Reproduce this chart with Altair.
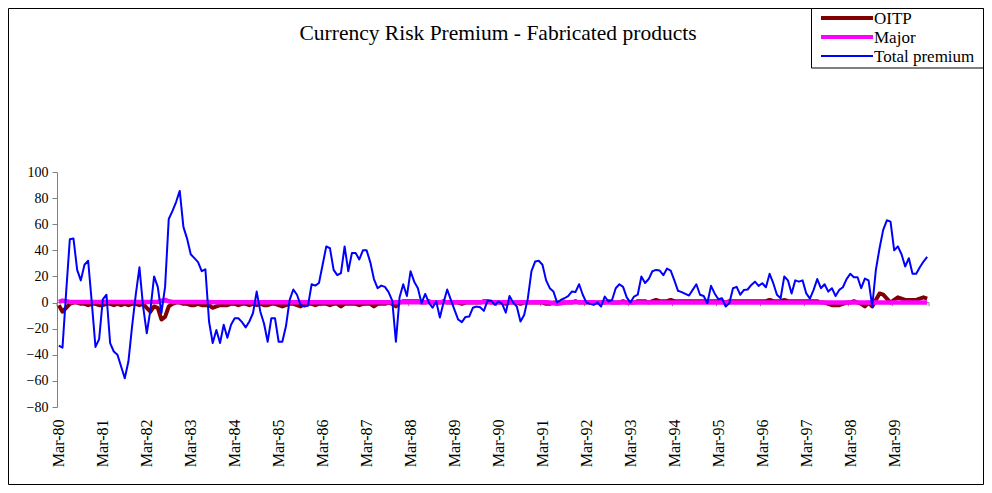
import altair as alt
import pandas as pd

# ---- data (monthly, Mar-80 .. Dec-99) ----
total_premium = [
    -33, -34.5, 8, 48.5, 49, 25, 17, 29, 32, 0, -34, -28,
    2.5, 6, -31, -37.5, -40, -49, -58, -45, -18, 6, 27, -3,
    -23.5, -5.6, 20, 12, -8, 12, 64, 70, 77, 85.5, 58, 49,
    37, 34, 31, 24, 25.5, -14.5, -31, -21, -31, -17, -27, -17,
    -12, -12, -15, -19, -14.5, -8, 8.4, -7, -16, -30, -12, -12,
    -30, -30, -18, 2, 10, 6, -2, -3, -2.5, 14, 13, 15,
    29, 43, 41.6, 25, 21, 22.5, 43, 24, 38, 38, 33, 40,
    40, 31, 18, 11, 13, 12, 8, 1.5, -30, 4, 14, 5,
    24, 16, 11, -0.5, 6.6, 0, -4, 1, -11.5, 0, 10, 2,
    -5.6, -13, -15, -11, -10.7, -4, -3, -3.6, -6.4, 1.3, 1.5, -1.8,
    0.8, -1, -7.7, 5, 0, -3, -14.5, -9.5, 3, 24, 31.4, 32,
    29, 17, 11, 8.4, 0, 2, 3.3, 5, 8.4, 8, 14, 6,
    0, -1, -1.8, 0, -3, 4.6, 0.8, 2, 11, 14, 12, 4,
    0, 4.6, 6, 20, 15, 18, 24, 25, 24.5, 21, 26, 24.5,
    17, 9, 8, 6.6, 5.4, 9.7, 14, 6, 5, -0.5, 12.8, 7,
    2.5, 3.3, -3, -0.5, 11, 12, 6, 9.7, 10, 13.5, 16, 12.8,
    14.8, 11.7, 22, 14.8, 6, 3.3, 20, 17, 7, 17, 16, 17,
    7, 3, 9.7, 18, 11, 14, 8.4, 11, 5, 9.7, 11.7, 18,
    22, 19.4, 19.4, 11, 18.4, 17, -3, 25, 41.6, 55.7, 63, 62,
    40, 43, 37, 27.6, 34, 22, 22, 27, 31.4, 35,
]

oitp = [
    -2, -7, -4, -1, 0, 0, -1, -1, -2, -1, -1, -2,
    -2, -1, -1, -2, -1, -2, -1, -2, -1, -1, -2, -1,
    -4, -7, -3, -4, -13, -11, -3, -1, 0, 0, -1, -1,
    -2, -2, -1, -2, -2, -2, -4, -3, -2, -2, -2, -1,
    -1, -2, -1, -1, -2, -1, -2, -1, -2, -2, -1, -1,
    -2, -3, -2, -1, -1, -2, -3, -1, -1, -1, -2, -1,
    -1, -1, -2, -1, -1, -3, -1, -1, -1, -1, -2, -1,
    -1, -1, -3, -1, -1, -1, 0, -1, -3, 0, 1, 1,
    1, 1, 1, 0, 0, 1, 0, 0, 0, 1, 0, 0,
    0, 0, -1, 0, 0, 0, 0, 0, 1, 1, 0, 0,
    0, 0, -1, 0, 0, 0, -1, 0, 0, 0, 0, 0,
    0, -1, -1, 0, 0, 0, 0, 0, 0, 1, 0, 0,
    0, 0, 0, 0, 0, 0, 1, 0, 0, 0, 1, 0,
    0, 0, 1, 1, 1, 0, 1, 2, 1, 1, 1, 2,
    1, 1, 1, 1, 1, 1, 1, 1, 1, 1, 1, 1,
    1, 1, 0, 1, 1, 1, 1, 1, 1, 1, 1, 1,
    1, 1, 2, 1, 1, 1, 2, 1, 1, 1, 1, 1,
    1, 1, 1, 1, 0, 0, -1, -2, -2, -2, -1, 0,
    0, 1, 0, -1, -3, 0, -3, 2, 7, 6, 3, 0,
    2, 4, 3, 2, 2, 2, 2, 3, 4, 3,
]

major = [
    0.5, 1.5, 1, 0.5, 0.5, 0.5, 0.5, 0.5, 0.5, 0.5, 0.5, 0.5,
    0.5, 0.5, 0.5, 0.5, 0.5, 0.5, 0.5, 0.5, 0.5, 0.5, 0.5, 0.5,
    0.5, 0.5, 0.5, 0.5, 1.5, 2, 1, 0.5, 0.5, 0.5, 0.5, 0.5,
    0.5, 0.5, 0.5, 0.5, 0.5, 0.5, 0.3, 0.3, 0.3, 0.3, 0.3, 0.3,
    0.3, 0.3, 0.3, 0.3, 0.3, 0.3, 0.3, 0.3, 0.3, 0.3, 0.3, 0.3,
    0.3, 0.3, 0.3, 0.3, 0.3, 0.3, 0.3, 0.3, 0.3, 0.3, 0.3, 0.3,
    0.3, 0.3, 0.3, 0.3, 0.3, 0.3, 0.3, 0.3, 0.3, 0.3, 0.3, 0.3,
    0.3, 0.3, 0.3, 0.3, 0.3, 0.3, 0.3, 0.3, 0.3, 0.3, 0.3, 0.3,
    0.3, 0.3, 0.3, 0.3, 0.3, 0.3, 0.3, 0.3, 0.3, 0.3, 0.3, 0.3,
    0.3, 0.3, 0.3, 0.3, 0.3, 0.3, 0.3, 0.3, 0.3, 0.3, 0.3, 0.3,
    0.3, 0.3, 0.3, 0.3, 0.3, 0.3, 0.3, 0.3, 0.3, 0.3, 0.3, 0.3,
    0.3, 0.3, 0, -0.5, -1, -0.5, 0, 0.3, 0.3, 0.3, 0.3, 0.3,
    0.3, 0.3, 0.3, 0, 0, 0, 0, 0, 0, 0, 0, 0,
    0, 0, 0, 0, 0, 0, 0, 0, 0, 0, 0, 0,
    0, 0, 0, 0, 0, 0, 0, 0, 0, 0, 0, 0,
    0, 0, 0, 0, 0, 0, 0, 0, 0, 0, 0, 0,
    0, 0, 0, 0, 0, 0, 0, 0, 0, 0, 0, 0,
    0, 0, 0, 0, 0, 0, 0, 0, 0, 0, 0, 0,
    0, 0, 0, 0, 0, 0, 0, 0, 0, 0, 0, 0,
    0, 0, 0, 0, 0, 0, 0, 0, 0, 0,
]

series_names = ["OITP", "Major", "Total premium"]
series_colors = ["#800000", "#FF00FF", "#0000FF"]
series_widths = [4, 4.5, 2]
y_ticks = [-80, -60, -40, -20, 0, 20, 40, 60, 80, 100]
title_text = "Currency Risk Premium - Fabricated products"

months = pd.date_range("1980-03-01", periods=len(total_premium), freq="MS")
month_labels = list(months.strftime("%b-%y"))
march_idx = [i for i, m in enumerate(months) if m.month == 3]
march_labels = [month_labels[i] for i in march_idx]

rows = []
for name, vals in zip(series_names, [oitp, major, total_premium]):
    for i, v in enumerate(vals):
        rows.append({"idx": i, "month": month_labels[i], "value": v, "series": name})
df = pd.DataFrame(rows)

ticks_df = pd.DataFrame({"pos": [i - 0.5 for i in march_idx] + [len(total_premium) - 0.5]})
one = pd.DataFrame({"k": [0]})

W, H = 872, 235
PL, PT = 49, 164
TOTW, TOTH = 976, 477
SERIF = "Liberation Serif"

label_expr = "[" + ",".join("'%s'" % s for s in march_labels) + "][round(datum.value/12)]"

xscale = alt.Scale(domain=[-0.5, len(total_premium) - 0.5], nice=False, zero=False)
yscale = alt.Scale(domain=[-80, 100], nice=False, zero=False)

x_axis = alt.Axis(values=march_idx, labelExpr=label_expr, labelAngle=270,
                  labelFont=SERIF, labelFontSize=16, labelColor="black",
                  labelPadding=12, domain=False, ticks=False, grid=False,
                  title=None, labelOverlap=False, labelFlush=False)
y_axis = alt.Axis(values=y_ticks, labelFont=SERIF, labelFontSize=14,
                  labelColor="black", domainColor="#808080", tickColor="#808080",
                  tickSize=5, labelPadding=4, grid=False, title=None,
                  labelOverlap=False, labelFlush=False)

x_enc = alt.X("idx:Q", scale=xscale, axis=x_axis)
y_enc = alt.Y("value:Q", scale=yscale, axis=y_axis)

color_enc = alt.Color("series:N", scale=alt.Scale(domain=series_names, range=series_colors), legend=None)

base = alt.Chart(df)
layers = []

for name, w in zip(series_names, series_widths):
    layers.append(base.transform_filter(alt.datum.series == name).mark_line(
        strokeJoin="round", strokeWidth=w).encode(x=x_enc, y=y_enc, color=color_enc))

# zero axis line and category ticks (Excel style)
zero_line = alt.Chart(one).mark_rule(color="#808080", strokeWidth=1).encode(
    y=alt.datum(0, scale=yscale, axis=y_axis))
tick_marks = alt.Chart(ticks_df).mark_rule(color="#808080", strokeWidth=1).encode(
    x=alt.X("pos:Q", scale=xscale, axis=x_axis),
    y=alt.datum(0, scale=yscale, axis=y_axis), y2=alt.datum(-2.8))

# title
title_layer = alt.Chart(one).mark_text(text=title_text, font=SERIF, fontSize=21.5,
                                       color="black", align="center", baseline="alphabetic").encode(
    x=alt.value(441), y=alt.value(-132))

# outer frame
frame = alt.Chart(one).mark_rect(fill=None, stroke="black", strokeWidth=1).encode(
    x=alt.value(-PL + 0.5), x2=alt.value(TOTW - PL - 0.5),
    y=alt.value(-PT + 0.5), y2=alt.value(TOTH - PT - 0.5))

# legend box (page coords -> plot coords: subtract 57, 172)
LX0, LX1, LY0, LY1 = 811 - 57, TOTW - PL - 0.5, -PT + 0.5, 68 - 172
legend_layers = [alt.Chart(one).mark_rect(fill="white", stroke="black", strokeWidth=1).encode(
    x=alt.value(LX0 + 0.5), x2=alt.value(LX1), y=alt.value(LY0), y2=alt.value(LY1))]
legend_rows_y = [18 - 172, 37 - 172, 56 - 172]
for name, col, w, ry in zip(series_names, series_colors, series_widths, legend_rows_y):
    leg = pd.DataFrame({"series": [name]})
    legend_layers.append(alt.Chart(leg).mark_rule(color=col, strokeWidth=min(w, 4)).encode(
        x=alt.value(LX0 + 10), x2=alt.value(LX0 + 62), y=alt.value(ry)))
    legend_layers.append(alt.Chart(leg).mark_text(font=SERIF, fontSize=17, color="black",
                                                  align="left", baseline="middle").encode(
        text="series:N", x=alt.value(LX0 + 63), y=alt.value(ry + 1)))

chart = alt.layer(zero_line, tick_marks, *layers, title_layer, frame, *legend_layers).properties(
    width=W, height=H,
    autosize=alt.AutoSizeParams(type="none"),
    padding={"left": PL, "top": PT, "right": TOTW - PL - W, "bottom": TOTH - PT - H},
    background="white",
).configure_view(stroke=None)

chart.save("out.html", embed_options={"renderer": "svg", "actions": False})
